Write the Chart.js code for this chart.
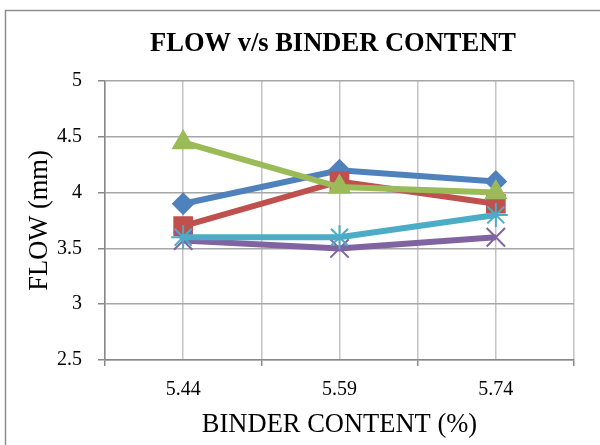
<!DOCTYPE html>
<html>
<head>
<meta charset="utf-8">
<script src="https://cdn.jsdelivr.net/npm/chart.js@4/dist/chart.umd.min.js"></script>
<style>
  html, body { margin: 0; padding: 0; background: #fff; }
  #wrap { position: relative; width: 600px; height: 445px; }
</style>
</head>
<body>
<div id="wrap"><canvas id="chart" width="600" height="445"></canvas></div>
<script>
// values
const binderContent = ["5.44", "5.59", "5.74"];
const flowBlue   = [3.9, 4.2, 4.1];
const flowRed    = [3.7, 4.1, 3.9];
const flowGreen  = [4.45, 4.05, 4.0];
const flowPurple = [3.57, 3.5, 3.6];
const flowCyan   = [3.6, 3.6, 3.8];
const flowTicks  = [2.5, 3, 3.5, 4, 4.5, 5];

const serif = "'Liberation Serif', 'Times New Roman', serif";

function series(label, data, color, style, radius, order) {
    return {
        label: label,
        data: data,
        borderColor: color,
        backgroundColor: color,
        borderWidth: 6,
        pointStyle: style,
        pointRadius: radius,
        pointHoverRadius: radius,
        pointBorderWidth: 2,
        pointBorderColor: color,
        pointBackgroundColor: color,
        tension: 0,
        order: order
    };
}

// outer frame and title
const frame = {
    id: "frame",
    beforeDraw(chart) {
        const c = chart.ctx;
        c.save();
        c.fillStyle = "#fff";
        c.fillRect(0, 0, chart.width, chart.height);
        c.strokeStyle = "#8e8e8e";
        c.lineWidth = 1.5;
        c.beginPath();
        c.moveTo(5.5, chart.height);
        c.lineTo(5.5, 10.5);
        c.lineTo(chart.width, 10.5);
        c.stroke();
        c.restore();
    },
    afterDraw(chart) {
        const c = chart.ctx;
        c.save();
        c.fillStyle = "#000";
        c.font = "bold 26.5px " + serif;
        c.textAlign = "center";
        c.textBaseline = "middle";
        c.fillText("FLOW v/s BINDER CONTENT", 333, 44);
        c.restore();
    }
};

new Chart(document.getElementById("chart"), {
    type: "line",
    data: {
        labels: binderContent,
        datasets: [
            series("Series1", flowBlue, "#4F81BD", "rectRot", 10, 5),
            series("Series2", flowRed, "#C0504D", "rect", 12.5, 4),
            series("Series3", flowGreen, "#9BBB59", "triangle", 11.5, 3),
            series("Series4", flowPurple, "#8064A2", "crossRot", 13, 2),
            series("Series5", flowCyan, "#4BACC6", "star", 12, 1)
        ]
    },
    options: {
        responsive: false,
        animation: false,
        layout: { padding: { left: 0, right: 26, top: 81, bottom: 0 } },
        plugins: {
            legend: { display: false },
            tooltip: { enabled: false },
            title: { display: false }
        },
        scales: {
            x: {
                type: "category",
                offset: true,
                grid: { offset: true, color: "#c4c4c4", lineWidth: 1.5, tickLength: 6, tickColor: "#888" },
                border: { color: "#888", width: 1.5 },
                ticks: { color: "#000", font: { family: serif, size: 20 }, padding: 12, maxRotation: 0 },
                title: { display: true, text: "BINDER CONTENT (%)", color: "#000",
                         font: { family: serif, size: 26.5 }, padding: { top: 0, bottom: 4 } },
                afterFit(s) { s.height = 85; }
            },
            xc: {
                type: "category",
                labels: binderContent,
                position: "top",
                offset: true,
                grid: { offset: false, color: "#c4c4c4", lineWidth: 1.5, drawTicks: false },
                border: { display: false },
                ticks: { display: false },
                afterFit(s) { s.height = 0; }
            },
            y: {
                min: 2.5,
                max: 5,
                afterBuildTicks(s) { s.ticks = flowTicks.map(v => ({ value: v })); },
                grid: { color: "#a6a6a6", lineWidth: 1.5, tickLength: 7, tickColor: "#888" },
                border: { color: "#888", width: 1.5 },
                ticks: { color: "#000", font: { family: serif, size: 20 }, padding: 16,
                         callback: v => String(v) },
                title: { display: true, text: "FLOW (mm)", color: "#000",
                         font: { family: serif, size: 26.5 }, padding: { top: 24, bottom: 0 } },
                afterFit(s) { s.width = 105; }
            }
        }
    },
    plugins: [frame]
});
</script>
</body>
</html>
